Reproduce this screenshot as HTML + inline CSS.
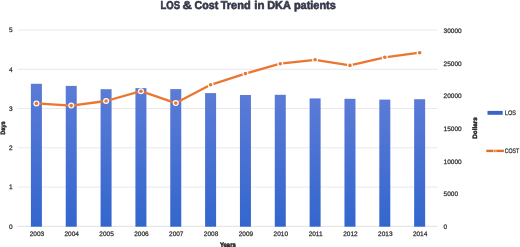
<!DOCTYPE html>
<html><head><meta charset="utf-8"><style>
html,body{margin:0;padding:0;background:#fff;width:520px;height:247px;overflow:hidden}
svg{display:block;filter:blur(0.4px)}
text{font-family:"Liberation Sans",sans-serif;text-rendering:geometricPrecision}
.lb{stroke:#303030;stroke-width:0.25px}
.tt{stroke:#35384a;stroke-width:0.6px}
.at{stroke:#262626;stroke-width:0.45px}
</style></head><body>
<svg width="520" height="247" viewBox="0 0 520 247">
<defs>
<linearGradient id="bg" x1="0" y1="0" x2="0" y2="1">
<stop offset="0" stop-color="#5b7bd7"/>
<stop offset="1" stop-color="#3366cd"/>
</linearGradient>
</defs>
<rect width="520" height="247" fill="#fff"/>

<line x1="17.5" y1="30.0" x2="437.5" y2="30.0" stroke="#e3e3e3" stroke-width="0.8"/>
<line x1="17.5" y1="69.3" x2="437.5" y2="69.3" stroke="#e3e3e3" stroke-width="0.8"/>
<line x1="17.5" y1="108.5" x2="437.5" y2="108.5" stroke="#e3e3e3" stroke-width="0.8"/>
<line x1="17.5" y1="147.8" x2="437.5" y2="147.8" stroke="#e3e3e3" stroke-width="0.8"/>
<line x1="17.5" y1="187.1" x2="437.5" y2="187.1" stroke="#e3e3e3" stroke-width="0.8"/>
<line x1="17.5" y1="226.3" x2="437.5" y2="226.3" stroke="#d9d9d9" stroke-width="0.8"/>
<rect x="30.90" y="83.8" width="11.0" height="142.90" fill="url(#bg)"/>
<rect x="65.74" y="85.9" width="11.0" height="140.80" fill="url(#bg)"/>
<rect x="100.58" y="89.2" width="11.0" height="137.50" fill="url(#bg)"/>
<rect x="135.42" y="88.1" width="11.0" height="138.60" fill="url(#bg)"/>
<rect x="170.26" y="89.1" width="11.0" height="137.60" fill="url(#bg)"/>
<rect x="205.10" y="93.1" width="11.0" height="133.60" fill="url(#bg)"/>
<rect x="239.94" y="95" width="11.0" height="131.70" fill="url(#bg)"/>
<rect x="274.78" y="94.8" width="11.0" height="131.90" fill="url(#bg)"/>
<rect x="309.62" y="98.4" width="11.0" height="128.30" fill="url(#bg)"/>
<rect x="344.46" y="98.8" width="11.0" height="127.90" fill="url(#bg)"/>
<rect x="379.30" y="99.6" width="11.0" height="127.10" fill="url(#bg)"/>
<rect x="414.14" y="99.2" width="11.0" height="127.50" fill="url(#bg)"/>
<polyline points="36.40,103.4 71.24,105.6 106.08,101 140.92,91.2 175.76,103.1 210.60,84.8 245.44,73.6 280.28,63.7 315.12,59.8 349.96,65.4 384.80,57.3 419.64,52.7" fill="none" stroke="#ea7630" stroke-width="2.3" stroke-linejoin="round"/>
<circle cx="36.40" cy="103.4" r="3.0" fill="#fff"/><circle cx="36.40" cy="103.4" r="1.8" fill="#e07a3c"/>
<circle cx="71.24" cy="105.6" r="3.0" fill="#fff"/><circle cx="71.24" cy="105.6" r="1.8" fill="#e07a3c"/>
<circle cx="106.08" cy="101" r="3.0" fill="#fff"/><circle cx="106.08" cy="101" r="1.8" fill="#e07a3c"/>
<circle cx="140.92" cy="91.2" r="3.0" fill="#fff"/><circle cx="140.92" cy="91.2" r="1.8" fill="#e07a3c"/>
<circle cx="175.76" cy="103.1" r="3.0" fill="#fff"/><circle cx="175.76" cy="103.1" r="1.8" fill="#e07a3c"/>
<circle cx="210.60" cy="84.8" r="3.0" fill="#fff"/><circle cx="210.60" cy="84.8" r="1.8" fill="#e07a3c"/>
<circle cx="245.44" cy="73.6" r="3.0" fill="#fff"/><circle cx="245.44" cy="73.6" r="1.8" fill="#e07a3c"/>
<circle cx="280.28" cy="63.7" r="3.0" fill="#fff"/><circle cx="280.28" cy="63.7" r="1.8" fill="#e07a3c"/>
<circle cx="315.12" cy="59.8" r="3.0" fill="#fff"/><circle cx="315.12" cy="59.8" r="1.8" fill="#e07a3c"/>
<circle cx="349.96" cy="65.4" r="3.0" fill="#fff"/><circle cx="349.96" cy="65.4" r="1.8" fill="#e07a3c"/>
<circle cx="384.80" cy="57.3" r="3.0" fill="#fff"/><circle cx="384.80" cy="57.3" r="1.8" fill="#e07a3c"/>
<circle cx="419.64" cy="52.7" r="3.0" fill="#fff"/><circle cx="419.64" cy="52.7" r="1.8" fill="#e07a3c"/>
<text x="12.5" y="228.60" font-size="6.5" fill="#303030" class="lb" text-anchor="end">0</text>
<text x="12.5" y="189.40" font-size="6.5" fill="#303030" class="lb" text-anchor="end">1</text>
<text x="12.5" y="150.10" font-size="6.5" fill="#303030" class="lb" text-anchor="end">2</text>
<text x="12.5" y="110.80" font-size="6.5" fill="#303030" class="lb" text-anchor="end">3</text>
<text x="12.5" y="71.60" font-size="6.5" fill="#303030" class="lb" text-anchor="end">4</text>
<text x="12.5" y="32.30" font-size="6.5" fill="#303030" class="lb" text-anchor="end">5</text>
<text x="443.6" y="229.10" font-size="6.5" fill="#303030" class="lb">0</text>
<text x="443.6" y="196.38" font-size="6.5" fill="#303030" class="lb">5000</text>
<text x="443.6" y="163.66" font-size="6.5" fill="#303030" class="lb">10000</text>
<text x="443.6" y="130.94" font-size="6.5" fill="#303030" class="lb">15000</text>
<text x="443.6" y="98.22" font-size="6.5" fill="#303030" class="lb">20000</text>
<text x="443.6" y="65.50" font-size="6.5" fill="#303030" class="lb">25000</text>
<text x="443.6" y="32.78" font-size="6.5" fill="#303030" class="lb">30000</text>
<text x="36.90" y="235.7" font-size="6.5" fill="#303030" class="lb" text-anchor="middle">2003</text>
<text x="71.74" y="235.7" font-size="6.5" fill="#303030" class="lb" text-anchor="middle">2004</text>
<text x="106.58" y="235.7" font-size="6.5" fill="#303030" class="lb" text-anchor="middle">2005</text>
<text x="141.42" y="235.7" font-size="6.5" fill="#303030" class="lb" text-anchor="middle">2006</text>
<text x="176.26" y="235.7" font-size="6.5" fill="#303030" class="lb" text-anchor="middle">2007</text>
<text x="211.10" y="235.7" font-size="6.5" fill="#303030" class="lb" text-anchor="middle">2008</text>
<text x="245.94" y="235.7" font-size="6.5" fill="#303030" class="lb" text-anchor="middle">2009</text>
<text x="280.78" y="235.7" font-size="6.5" fill="#303030" class="lb" text-anchor="middle">2010</text>
<text x="315.62" y="235.7" font-size="6.5" fill="#303030" class="lb" text-anchor="middle">2011</text>
<text x="350.46" y="235.7" font-size="6.5" fill="#303030" class="lb" text-anchor="middle">2012</text>
<text x="385.30" y="235.7" font-size="6.5" fill="#303030" class="lb" text-anchor="middle">2013</text>
<text x="420.14" y="235.7" font-size="6.5" fill="#303030" class="lb" text-anchor="middle">2014</text>
<text x="160.50" y="8.6" font-size="11.4" font-weight="bold" fill="#35384a" class="tt" textLength="19.60" lengthAdjust="spacingAndGlyphs">LOS</text>
<text x="182.60" y="8.6" font-size="11.4" font-weight="bold" fill="#35384a" class="tt" textLength="9.30" lengthAdjust="spacingAndGlyphs">&amp;</text>
<text x="194.60" y="8.6" font-size="11.4" font-weight="bold" fill="#35384a" class="tt" textLength="23.70" lengthAdjust="spacingAndGlyphs">Cost</text>
<text x="220.70" y="8.6" font-size="11.4" font-weight="bold" fill="#35384a" class="tt" textLength="29.90" lengthAdjust="spacingAndGlyphs">Trend</text>
<text x="254.20" y="8.6" font-size="11.4" font-weight="bold" fill="#35384a" class="tt" textLength="10.20" lengthAdjust="spacingAndGlyphs">in</text>
<text x="267.20" y="8.6" font-size="11.4" font-weight="bold" fill="#35384a" class="tt" textLength="23.60" lengthAdjust="spacingAndGlyphs">DKA</text>
<text x="293.90" y="8.6" font-size="11.4" font-weight="bold" fill="#35384a" class="tt" textLength="41.90" lengthAdjust="spacingAndGlyphs">patients</text>
<text x="219.9" y="246.9" font-size="6.5" font-weight="bold" fill="#262626" class="at" textLength="15.9" lengthAdjust="spacingAndGlyphs">Years</text>
<text transform="translate(4.7,134.7) rotate(-90)" x="0" y="0" font-size="6.3" font-weight="bold" fill="#262626" class="at" textLength="13.4" lengthAdjust="spacingAndGlyphs">Days</text>
<text transform="translate(476.7,138.7) rotate(-90)" x="0" y="0" font-size="6.3" font-weight="bold" fill="#262626" class="at" textLength="21.4" lengthAdjust="spacingAndGlyphs">Dollars</text>
<rect x="487.5" y="110.9" width="15.2" height="3.9" fill="#3a64c8"/>
<text x="504.8" y="115" font-size="6.5" fill="#303030" class="lb" textLength="11.2" lengthAdjust="spacingAndGlyphs">LOS</text>
<line x1="486.3" y1="150.9" x2="503.9" y2="150.9" stroke="#d8712e" stroke-width="2.4"/>
<circle cx="494.8" cy="150.9" r="1.7" fill="#fbe3d0"/><circle cx="494.8" cy="150.9" r="1.0" fill="#d8712e"/>
<text x="504.7" y="153.4" font-size="6.5" fill="#303030" class="lb" textLength="14.6" lengthAdjust="spacingAndGlyphs">COST</text>
</svg>
</body></html>
